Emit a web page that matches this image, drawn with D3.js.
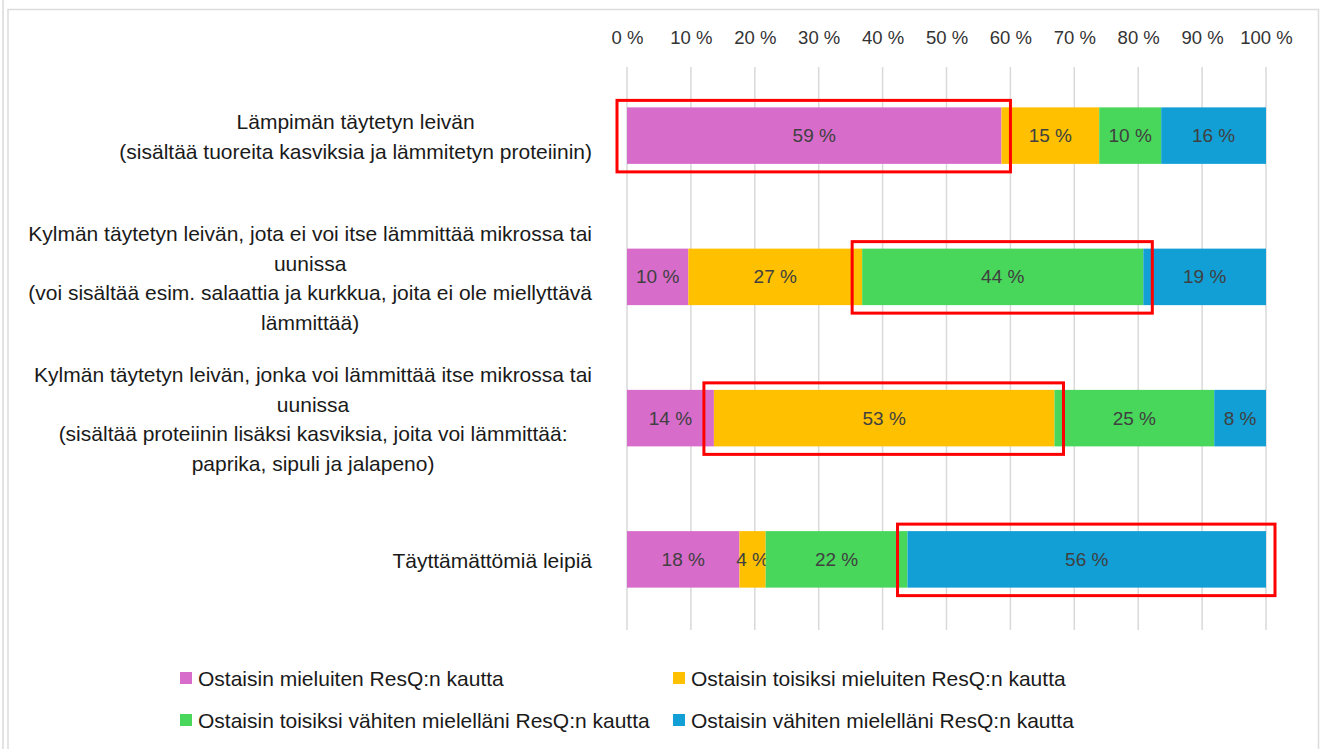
<!DOCTYPE html>
<html>
<head>
<meta charset="utf-8">
<script src="https://cdn.jsdelivr.net/npm/d3@7"></script>
<style>
    body { margin: 0; background: #fff; }
    text { font-family: "Liberation Sans", Arial, sans-serif; }
</style>
</head>
<body>
<script>
//category ids and their wrapped label lines
var catIds = ["warm", "coldNoHeat", "coldHeat", "plain"];
var catLines = [
    ["Lämpimän täytetyn leivän", "(sisältää tuoreita kasviksia ja lämmitetyn proteiinin)"],
    ["Kylmän täytetyn leivän, jota ei voi itse lämmittää mikrossa tai", "uunissa", "(voi sisältää esim. salaattia ja kurkkua, joita ei ole miellyttävä", "lämmittää)"],
    ["Kylmän täytetyn leivän, jonka voi lämmittää itse mikrossa tai", "uunissa", "(sisältää proteiinin lisäksi kasviksia, joita voi lämmittää:", "paprika, sipuli ja jalapeno)"],
    ["Täyttämättömiä leipiä"]
];

//series names
var seriesNames = [
    "Ostaisin mieluiten ResQ:n kautta",
    "Ostaisin toisiksi mieluiten ResQ:n kautta",
    "Ostaisin toisiksi vähiten mielelläni ResQ:n kautta",
    "Ostaisin vähiten mielelläni ResQ:n kautta"
];
var seriesColors = ["#d86ccb", "#ffc000", "#48d65b", "#119fd6"];

//shares (%) per category, one array per series
var firstChoice  = [58.6,  9.6, 13.6, 17.6];
var secondChoice = [15.3, 27.2, 53.3,  4.1];
var thirdChoice  = [ 9.7, 44.0, 25.0, 22.2];
var lastChoice   = [16.4, 19.2,  8.1, 56.1];

//x axis tick values
var tickValues = [0, 10, 20, 30, 40, 50, 60, 70, 80, 90, 100];

//segments highlighted with a red box: [category index, series index]
var highlights = [[0, 0], [1, 2], [2, 1], [3, 3]];

window.onload = drawChart();

function drawChart(){
    var width = 1323,
        height = 749;
    var svg = d3.select("body")
        .append("svg")
        .attr("width", width)
        .attr("height", height);

    //sheet background and chart frame
    svg.append("rect")
        .attr("width", width)
        .attr("height", height)
        .attr("fill", "#fff");
    svg.append("line")
        .attr("x1", 3).attr("x2", 3)
        .attr("y1", 0).attr("y2", height)
        .attr("stroke", "#e3e3e3")
        .attr("stroke-width", 2);
    svg.append("path")
        .attr("d", "M8," + height + "V9.5H1318.5V" + height)
        .attr("fill", "none")
        .attr("stroke", "#dcdcdc")
        .attr("stroke-width", 1.5);

    //build rows for the stack
    var allSeries = [firstChoice, secondChoice, thirdChoice, lastChoice];
    var keys = d3.range(seriesNames.length);
    var rows = catIds.map(function(id, i){
        var row = {id: id, index: i};
        keys.forEach(function(k){ row[k] = allSeries[k][i]; });
        return row;
    });
    var stacked = d3.stack().keys(keys)(rows);

    //scales
    var x = d3.scaleLinear()
        .domain([0, 100])
        .range([627, 1266]);
    var y = d3.scaleBand()
        .domain(catIds)
        .range([65, 630])
        .paddingInner(0.6)
        .paddingOuter(0.3);

    //vertical gridlines
    svg.append("g")
        .selectAll("line")
        .data(tickValues)
        .enter()
        .append("line")
        .attr("x1", function(d){ return x(d); })
        .attr("x2", function(d){ return x(d); })
        .attr("y1", 67)
        .attr("y2", 630)
        .attr("stroke", "#d9d9d9")
        .attr("stroke-width", 1.5);

    //top axis labels
    var axis = d3.axisTop(x)
        .tickValues(tickValues)
        .tickSize(0)
        .tickPadding(0)
        .tickFormat(function(d){ return d + " %"; });
    var axisG = svg.append("g")
        .attr("transform", "translate(0,44)")
        .call(axis);
    axisG.select(".domain").remove();
    axisG.selectAll("text")
        .attr("font-family", "Liberation Sans, Arial, sans-serif")
        .attr("font-size", 18.5)
        .attr("fill", "#333");

    //stacked bar segments
    var layers = svg.selectAll(".layer")
        .data(stacked)
        .enter()
        .append("g")
        .attr("class", "layer")
        .attr("fill", function(d){ return seriesColors[d.key]; });
    layers.selectAll("rect")
        .data(function(d){ return d; })
        .enter()
        .append("rect")
        .attr("x", function(d){ return x(d[0]); })
        .attr("width", function(d){ return x(d[1]) - x(d[0]); })
        .attr("y", function(d){ return y(d.data.id); })
        .attr("height", y.bandwidth());

    //value labels centred in each segment
    layers.selectAll(".numbers")
        .data(function(d){ return d; })
        .enter()
        .append("text")
        .attr("class", "numbers")
        .attr("x", function(d){ return (x(d[0]) + x(d[1])) / 2; })
        .attr("y", function(d){ return y(d.data.id) + y.bandwidth() / 2; })
        .attr("text-anchor", "middle")
        .attr("dominant-baseline", "central")
        .attr("font-size", 19)
        .attr("fill", "#404040")
        .text(function(d){ return Math.round(d[1] - d[0]) + " %"; });

    //red highlight boxes
    svg.selectAll(".highlight")
        .data(highlights)
        .enter()
        .append("rect")
        .attr("class", "highlight")
        .attr("x", function(d){ return x(stacked[d[1]][d[0]][0]) - 10; })
        .attr("width", function(d){
            var seg = stacked[d[1]][d[0]];
            return x(seg[1]) - x(seg[0]) + 19;
        })
        .attr("y", function(d){ return y(catIds[d[0]]) - 7; })
        .attr("height", y.bandwidth() + 15)
        .attr("fill", "none")
        .attr("stroke", "#ff0000")
        .attr("stroke-width", 3);

    //category labels: lines centred in a block that sits against the plot
    var lineH = 29.7;
    catIds.forEach(function(id, i){
        var lines = catLines[i];
        var g = svg.append("g");
        var texts = g.selectAll("text")
            .data(lines)
            .enter()
            .append("text")
            .attr("font-size", 21)
            .attr("fill", "#1a1a1a")
            .attr("text-anchor", "middle")
            .attr("dominant-baseline", "central")
            .attr("y", function(d, j){
                return y(id) + y.bandwidth() / 2 + (j - (lines.length - 1) / 2) * lineH + 1;
            })
            .text(function(d){ return d; });
        var maxW = 0;
        texts.each(function(){ maxW = Math.max(maxW, this.getComputedTextLength()); });
        texts.attr("x", 592 - maxW / 2);
    });

    //legend in two columns
    var legend = svg.selectAll(".legend")
        .data(seriesNames)
        .enter()
        .append("g")
        .attr("class", "legend")
        .attr("transform", function(d, i){
            return "translate(" + (i % 2 ? 673 : 180) + "," + (i < 2 ? 678 : 720) + ")";
        });
    legend.append("rect")
        .attr("x", 0)
        .attr("y", -6)
        .attr("width", 12)
        .attr("height", 12)
        .attr("fill", function(d, i){ return seriesColors[i]; });
    legend.append("text")
        .attr("x", 18)
        .attr("dominant-baseline", "central")
        .attr("font-size", 21)
        .attr("fill", "#1a1a1a")
        .text(function(d){ return d; });
};
</script>
</body>
</html>
